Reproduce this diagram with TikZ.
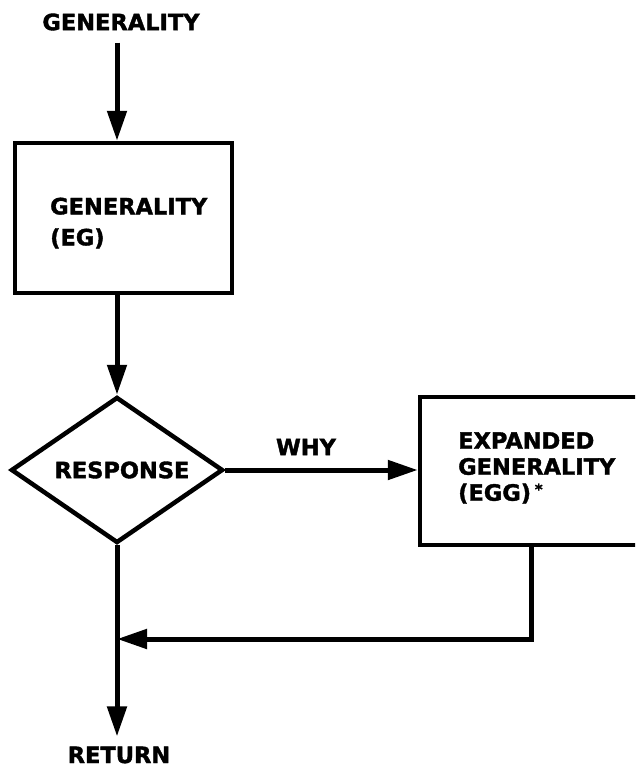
\documentclass[tikz,border=0pt]{standalone}
\usepackage{fontspec}
\setmainfont{DejaVu Sans}[BoldFeatures={FakeBold=1.6}]
\usetikzlibrary{arrows.meta,shapes.geometric}
\begin{document}
\begin{tikzpicture}[x=1pt,y=-1pt,
  every node/.style={font=\fontsize{22.5}{26}\selectfont\bfseries},
  lbl/.style={inner sep=2pt},
  box/.style={draw,line width=4.5pt,rectangle,inner sep=0pt},
  decision/.style={draw,line width=4.5pt,diamond,inner sep=0pt,
    minimum width=212pt,minimum height=146pt},
  flow/.style={line width=5pt,-{Triangle[length=30pt,width=19pt]}}]
\useasboundingbox (0,0) rectangle (635,771);
\clip (0,0) rectangle (635,771);

% entry label
\node[lbl] (title) at (121,22) {GENERALITY};

% general statement box
\node[box,minimum width=217pt,minimum height=150pt] (eg) at (123.5,218) {};
\node[lbl,align=left,font=\fontsize{22.5}{31}\selectfont\bfseries,anchor=west] (egtext) at (48,223) {GENERALITY\\(EG)};

% response decision
\node[decision] (resp) at (117,470) {};
\node[lbl] (resptext) at (122,470) {RESPONSE};

% expanded statement box (runs off the right edge)
\node[box,minimum width=240pt,minimum height=148pt] (egg) at (540,471) {};
\node[lbl,align=left,anchor=west] (eggtext) at (456,468) {EXPANDED\\GENERALITY\\(EGG)\,\raisebox{6pt}{\fontsize{15}{15}\selectfont*}};

% exit label
\node[lbl] (ret) at (119,755) {RETURN};

% junction where the loop rejoins
\coordinate (j) at (117,639);

% connectors
\draw[flow] ([yshift=-10pt]title.south -| resp.north) -- (resp.north |- eg.north);
\draw[flow] (resp.north |- eg.south) -- (resp.north);
\draw[flow] (resp.east) -- (resp.east -| egg.west);
\node[lbl] (why) at (306,447) {WHY};
\draw[flow] ([xshift=-9pt]egg.south) -- ([xshift=-9pt]egg.south |- j) -- (j);
\draw[flow] (resp.south) -- ([yshift=8pt]resp.south |- ret.north);
\end{tikzpicture}
\end{document}
